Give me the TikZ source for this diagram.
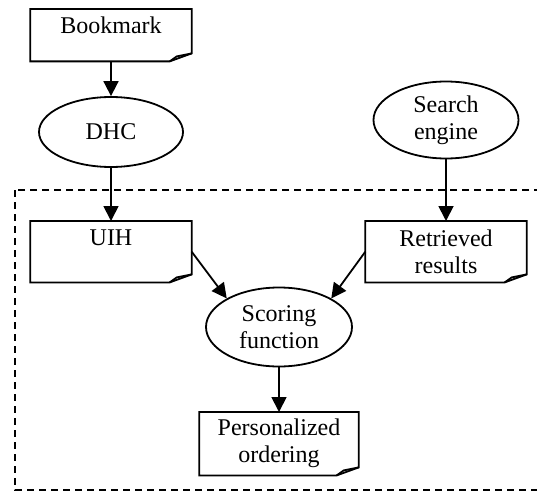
\documentclass[tikz,border=0pt]{standalone}
\usepackage{fontspec}
\setmainfont{Liberation Serif}
\usetikzlibrary{shapes.geometric,arrows.meta}

% outline of a document box with a folded corner
\newcommand{\foldframe}[1]{%
  \draw[frame] (#1.north west) -- (#1.north east) -- ([yshift=8pt]#1.south east)
    -- ([xshift=-22pt]#1.south east) -- (#1.south west) -- cycle;
  \draw[frame] ([xshift=-22pt]#1.south east) -- ([xshift=-15pt,yshift=5pt]#1.south east)
    -- ([yshift=8pt]#1.south east);}

\begin{document}
\begin{tikzpicture}[x=1pt, y=-1pt,
    every node/.style={font=\fontsize{24}{27}\selectfont},
    frame/.style={line width=1.8pt},
    doc/.style={inner sep=0pt, minimum width=161pt, anchor=north},
    docone/.style={doc, text height=24pt, text depth=#1},
    doctwo/.style={doc, align=center, minimum height=#1},
    proc/.style={ellipse, draw, line width=1.8pt, inner sep=0pt, align=center},
    flow/.style={-{Triangle[length=15pt,width=15pt]}, line width=1.8pt}]
    \useasboundingbox (0,0) rectangle (537,492);
    % personalization part
    \draw[frame, dash pattern=on 7pt off 5pt] (15,190) rectangle (560,490);
    % sources
    \node[docone=28pt] (bookmark) at (111,9) {Bookmark};
    \node[proc, minimum width=144pt, minimum height=70pt] (dhc) at (111,132) {DHC};
    \node[proc, minimum width=145pt, minimum height=77pt] (search) at (446,120) {Search\\engine};
    % inputs of the scoring
    \node[docone=37pt] (uih) at (111,221) {UIH};
    \node[doctwo=61pt] (retrieved) at (446,221) {Retrieved\\results};
    \node[proc, minimum width=146pt, minimum height=79pt] (scoring) at (279,327) {Scoring\\function};
    \node[doctwo=63pt, minimum width=159pt] (ordering) at (279,412) {Personalized\\ordering};
    \foldframe{bookmark}
    \foldframe{uih}
    \foldframe{retrieved}
    \foldframe{ordering}
    % connectors
    \draw[flow] (bookmark) -- (dhc);
    \draw[flow] (dhc) -- (uih);
    \draw[flow] (search) -- (retrieved);
    \draw[flow] (uih.east) -- (scoring.north west);
    \draw[flow] (retrieved.west) -- (scoring.north east);
    \draw[flow] (scoring) -- (ordering);
\end{tikzpicture}
\end{document}
